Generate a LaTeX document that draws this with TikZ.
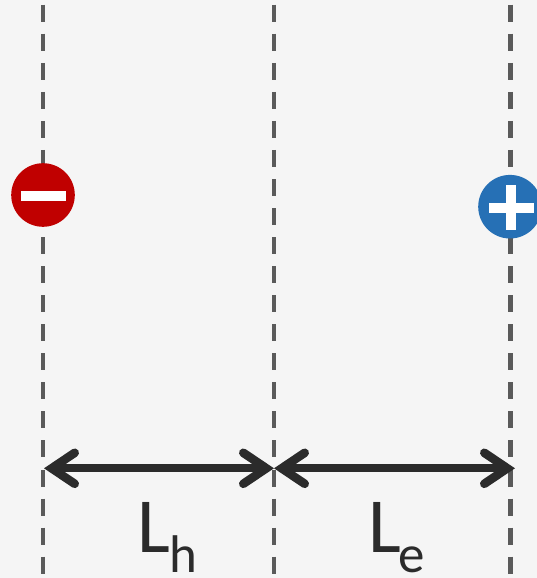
\documentclass[tikz,border=0pt]{standalone}
\usepackage{fontspec}
\setmainfont{Carlito}
\usetikzlibrary{arrows.meta}
\definecolor{bg}{HTML}{F5F5F5}
\definecolor{guide}{HTML}{5A5A5A}
\definecolor{ink}{HTML}{2B2B2B}
\definecolor{negred}{HTML}{C00000}
\definecolor{posblue}{HTML}{2670B5}
\tikzset{
  guideline/.style={draw=guide,line width=4.4pt,dash pattern=on 17pt off 12.05pt},
  charge/.style={circle,inner sep=0pt,minimum size=63.6pt},
  signbar/.style={fill=white,draw=none,inner sep=0pt},
  span/.style={draw=ink,line width=8pt,line cap=round,
    {Straight Barb[length=23pt,width=31pt,line width=8.6pt,line cap=round]}-{Straight Barb[length=23pt,width=31pt,line width=8.6pt,line cap=round]}},
  lab/.style={text=ink,inner sep=0pt,anchor=base west,font=\fontsize{78pt}{78pt}\selectfont},
  sub/.style={text=ink,inner sep=0pt,anchor=base west,font=\fontsize{53pt}{53pt}\selectfont}
}
\begin{document}
\begin{tikzpicture}[x=1pt,y=-1pt]
\useasboundingbox (0,0) rectangle (537,578);
\fill[bg] (0,0) rectangle (537,578);
\coordinate (t1) at (43,4.7);   \coordinate (b1) at (43,575);
\coordinate (t2) at (274,4.7);  \coordinate (b2) at (274,575);
\coordinate (t3) at (510.5,4.7);\coordinate (b3) at (510.5,575);
\draw[guideline] (t1) -- (b1);
\draw[guideline] (t2) -- (b2);
\draw[guideline] (t3) -- (b3);
\node[charge,fill=negred] (neg) at (43,195) {};
\node[signbar,minimum width=45pt,minimum height=10pt] (negbar) at (43.5,196) {};
\node[charge,fill=posblue] (pos) at (510,206.7) {};
\node[signbar,minimum width=45pt,minimum height=10pt] (posh) at (511.5,207.7) {};
\node[signbar,minimum width=10pt,minimum height=45pt] (posv) at (511,207.5) {};
\coordinate (aL) at (44,468.3);
\coordinate (aM) at (274,468.3);
\coordinate (aR) at (515,468.3);
\draw[span] (aL) -- (aM);
\draw[span] (aM) -- (aR);
\node[lab] (Lh) at (137.5,552) {L};
\node[sub] (h) at (169,572.5) {h};
\node[lab] (Le) at (368,552) {L};
\node[sub] (e) at (398,572.5) {e};
\end{tikzpicture}
\end{document}
